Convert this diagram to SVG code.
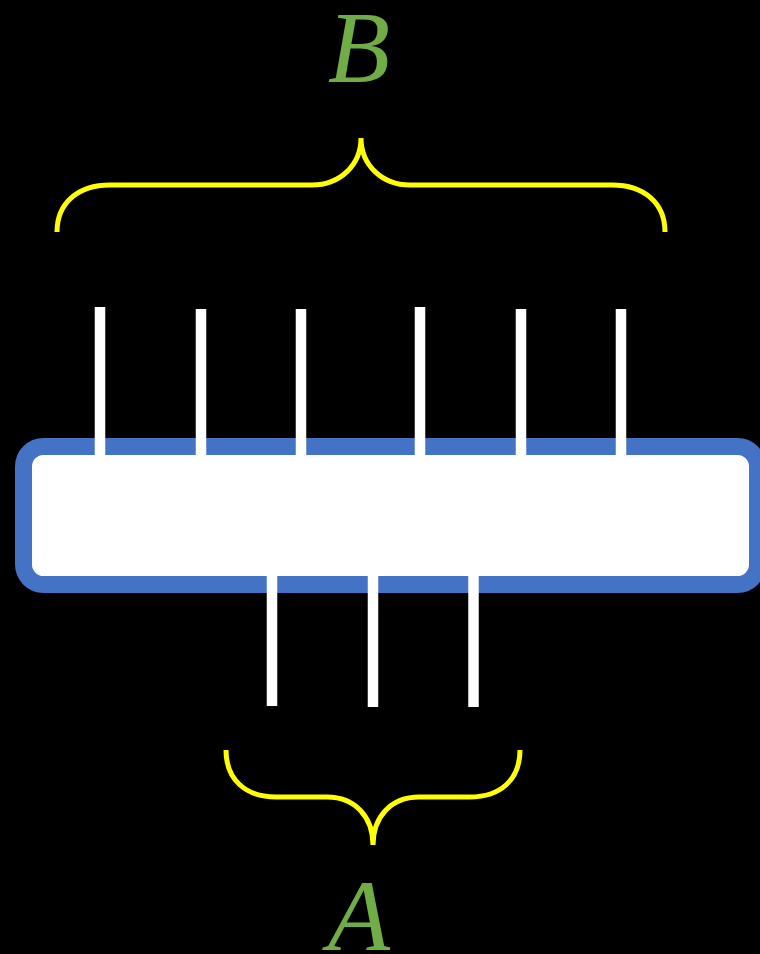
<svg xmlns="http://www.w3.org/2000/svg" width="760" height="954" viewBox="0 0 760 954">
<style>
.lbl{font-family:"Liberation Serif","Times New Roman",serif;font-style:italic;font-size:102px;fill:#70AD47;text-anchor:middle}
.brace{fill:none;stroke:#FFFF00;stroke-width:5}
.pin{stroke:#FFFFFF;stroke-width:10.5}
</style>
<rect width="760" height="954" fill="#000000"/>
<g id="box">
<rect x="23.5" y="446.5" width="734" height="138" rx="20" ry="20" fill="#FFFFFF" stroke="#4472C4" stroke-width="17"/>
</g>
<g id="connectors">
<line class="pin" x1="100" y1="307" x2="100" y2="455"/>
<line class="pin" x1="201" y1="309" x2="201" y2="455"/>
<line class="pin" x1="301" y1="309" x2="301" y2="455"/>
<line class="pin" x1="420" y1="307" x2="420" y2="455"/>
<line class="pin" x1="521" y1="309" x2="521" y2="455"/>
<line class="pin" x1="621" y1="309" x2="621" y2="455"/>
<line class="pin" x1="272" y1="576" x2="272" y2="706"/>
<line class="pin" x1="373" y1="576" x2="373" y2="707"/>
<line class="pin" x1="473.5" y1="576" x2="473.5" y2="707"/>
</g>
<g id="braceB">
<path class="brace" d="M57,232 C57,203 78,185 110,185 L312,185 C340,185 361,165 361,138 C361,165 382,185 410,185 L612,185 C644,185 665,203 665,232"/>
</g>
<g id="braceA">
<path class="brace" d="M226,750 C226,780 246,797 276,797 L327,797 C355,797 373,817 373,845 C373,817 391,797 419,797 L470,797 C500,797 520,780 520,750"/>
</g>
<g id="labelB"><text class="lbl" x="359" y="82">B</text></g>
<g id="labelA"><text class="lbl" x="359" y="950">A</text></g>
</svg>
